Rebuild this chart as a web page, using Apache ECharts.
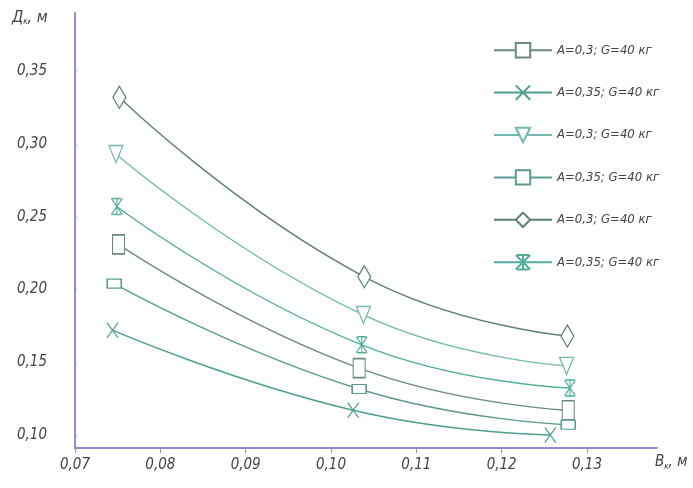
<!DOCTYPE html>
<html>
<head>
<meta charset="utf-8">
<script src="https://cdn.jsdelivr.net/npm/echarts@6/dist/echarts.min.js"></script>
<style>
html, body { margin: 0; padding: 0; background: #fff; }
#chart { width: 693px; height: 488px; }
</style>
</head>
<body>
<div id="chart"></div>
<script>
// values
const xTicks = [0.07, 0.08, 0.09, 0.10, 0.11, 0.12, 0.13];
const yTicks = [0.10, 0.15, 0.20, 0.25, 0.30, 0.35];
const labels = ['A=0,3; G=40 кг', 'A=0,35; G=40 кг', 'A=0,3; G=40 кг', 'A=0,35; G=40 кг', 'A=0,3; G=40 кг', 'A=0,35; G=40 кг'];

const sqBigX = [0.0751, 0.1033, 0.1278];
const sqBigY = [0.231, 0.146, 0.117];
const crossX = [0.0744, 0.1026, 0.1257];
const crossY = [0.172, 0.117, 0.100];
const triX = [0.0748, 0.1038, 0.1276];
const triY = [0.293, 0.1825, 0.1475];
const sqSmX = [0.0746, 0.1033, 0.1278];
const sqSmY = [0.204, 0.1316, 0.107];
const diaX = [0.0752, 0.1039, 0.1277];
const diaY = [0.332, 0.2087, 0.168];
const starX = [0.0749, 0.1036, 0.1280];
const starY = [0.257, 0.162, 0.1323];

const colors = ['#6b8a86', '#4c9e90', '#74b9b0', '#5a9c92', '#5f7f7a', '#52ad9c'];

const pathX = 'path://M0,0 L10,14 M10,0 L0,14';
const pathStar = 'path://M0,0 L10,14 M10,0 L0,14 M5,0 L5,14 M1,0 L9,0 M1,14 L9,14';

function zip(xs, ys) { return xs.map((x, i) => [x, ys[i]]); }
function fmt(v) { return v.toFixed(2).replace('.', ','); }

const chart = echarts.init(document.getElementById('chart'));

const defs = [
  { data: zip(sqBigX, sqBigY), symbol: 'rect', size: [12, 19] },
  { data: zip(crossX, crossY), symbol: pathX, size: [11, 15] },
  { data: zip(triX, triY), symbol: 'triangle', size: [14, 17], rotate: 180 },
  { data: zip(sqSmX, sqSmY), symbol: 'rect', size: [14, 9] },
  { data: zip(diaX, diaY), symbol: 'diamond', size: [13, 22] },
  { data: zip(starX, starY), symbol: pathStar, size: [11, 16] }
];

const series = defs.map((d, i) => ({
  name: 's' + i,
  type: 'line',
  smooth: 0.5,
  data: d.data,
  symbol: d.symbol,
  symbolSize: d.size,
  symbolRotate: d.rotate || 0,
  showAllSymbol: true,
  lineStyle: { color: colors[i], width: 1.4 },
  itemStyle: { color: '#fff', borderColor: colors[i], borderWidth: 1.3 },
  z: 3
}));

const textStyle = {
  fontFamily: 'Liberation Sans Narrow, DejaVu Sans Condensed, sans-serif',
  fontStyle: 'italic',
  color: '#444',
  fontSize: 15
};

chart.setOption({
  backgroundColor: '#fff',
  animation: false,
  grid: { left: 75, right: 36, top: 13, bottom: 40 },
  legend: {
    orient: 'vertical',
    left: 488,
    top: 37,
    itemWidth: 58,
    itemHeight: 18,
    itemGap: 26,
    data: series.map(s => s.name),
    formatter: function (name) { return labels[+name.slice(1)]; },
    textStyle: Object.assign({}, textStyle, { fontSize: 13 })
  },
  xAxis: {
    type: 'value',
    min: 0.07,
    max: 0.1382,
    axisLine: { lineStyle: { color: '#8e8ed2', width: 2 } },
    axisTick: { show: true, customValues: xTicks, length: 5, lineStyle: { color: '#8e8ed2' } },
    axisLabel: Object.assign({ customValues: xTicks, margin: 10, formatter: fmt, showMaxLabel: true }, textStyle),
    splitLine: { show: false }
  },
  yAxis: {
    type: 'value',
    min: 0.0911,
    max: 0.3899,
    axisLine: { show: true, lineStyle: { color: '#8e8ed2', width: 2 } },
    axisTick: { show: true, customValues: yTicks, length: 2, inside: true, lineStyle: { color: '#aab' } },
    axisLabel: Object.assign({ customValues: yTicks, margin: 28, formatter: fmt }, textStyle),
    splitLine: { show: false }
  },
  graphic: [
    {
      type: 'text', left: 12, top: 10,
      style: {
        text: '{a|Д}{s|к}{a|, м}',
        rich: {
          a: { fontFamily: textStyle.fontFamily, fontStyle: 'italic', fontSize: 16, fill: '#444' },
          s: { fontFamily: textStyle.fontFamily, fontStyle: 'italic', fontSize: 8, fill: '#444', padding: [8, 0, 0, 0] }
        }
      }
    },
    {
      type: 'text', left: 655, top: 455,
      style: {
        text: '{a|B}{s|к}{a|, м}',
        rich: {
          a: { fontFamily: textStyle.fontFamily, fontStyle: 'italic', fontSize: 15, fill: '#444' },
          s: { fontFamily: textStyle.fontFamily, fontStyle: 'italic', fontSize: 8, fill: '#444', padding: [8, 0, 0, 0] }
        }
      }
    }
  ],
  series: series
});
</script>
</body>
</html>
